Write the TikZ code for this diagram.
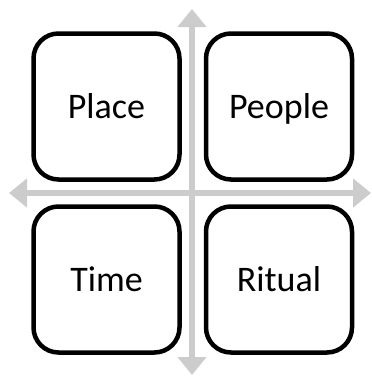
\documentclass[tikz,border=0pt]{standalone}
\usepackage{fontspec}
\setmainfont{Carlito}
\usetikzlibrary{arrows.meta}
\begin{document}
\begin{tikzpicture}[x=1pt,y=-1pt,
  quad/.style={draw=black,line width=4.5pt,fill=white,rounded corners=25pt,minimum width=146pt,minimum height=146pt,font=\fontsize{36}{40}\selectfont,inner sep=0pt,text height=31pt,text depth=8pt},
  axis/.style={draw={rgb,255:red,204;green,204;blue,204},line width=6pt,{Triangle[width=28pt,length=18pt]}-{Triangle[width=28pt,length=18pt]}}]
\useasboundingbox (0,0) rectangle (372,376);
\coordinate (top) at (192,9);
\coordinate (bot) at (192,375);
\coordinate (lft) at (9,193);
\coordinate (rgt) at (371,193);
\draw[axis] (top) -- (bot);
\draw[axis] (lft) -- (rgt);
\node[quad] (place) at (106.5,106.5) {Place};
\node[quad] (people) at (279,106.5) {People};
\node[quad] (time) at (106.5,279.5) {Time};
\node[quad] (ritual) at (279,279.5) {Ritual};
\end{tikzpicture}
\end{document}
